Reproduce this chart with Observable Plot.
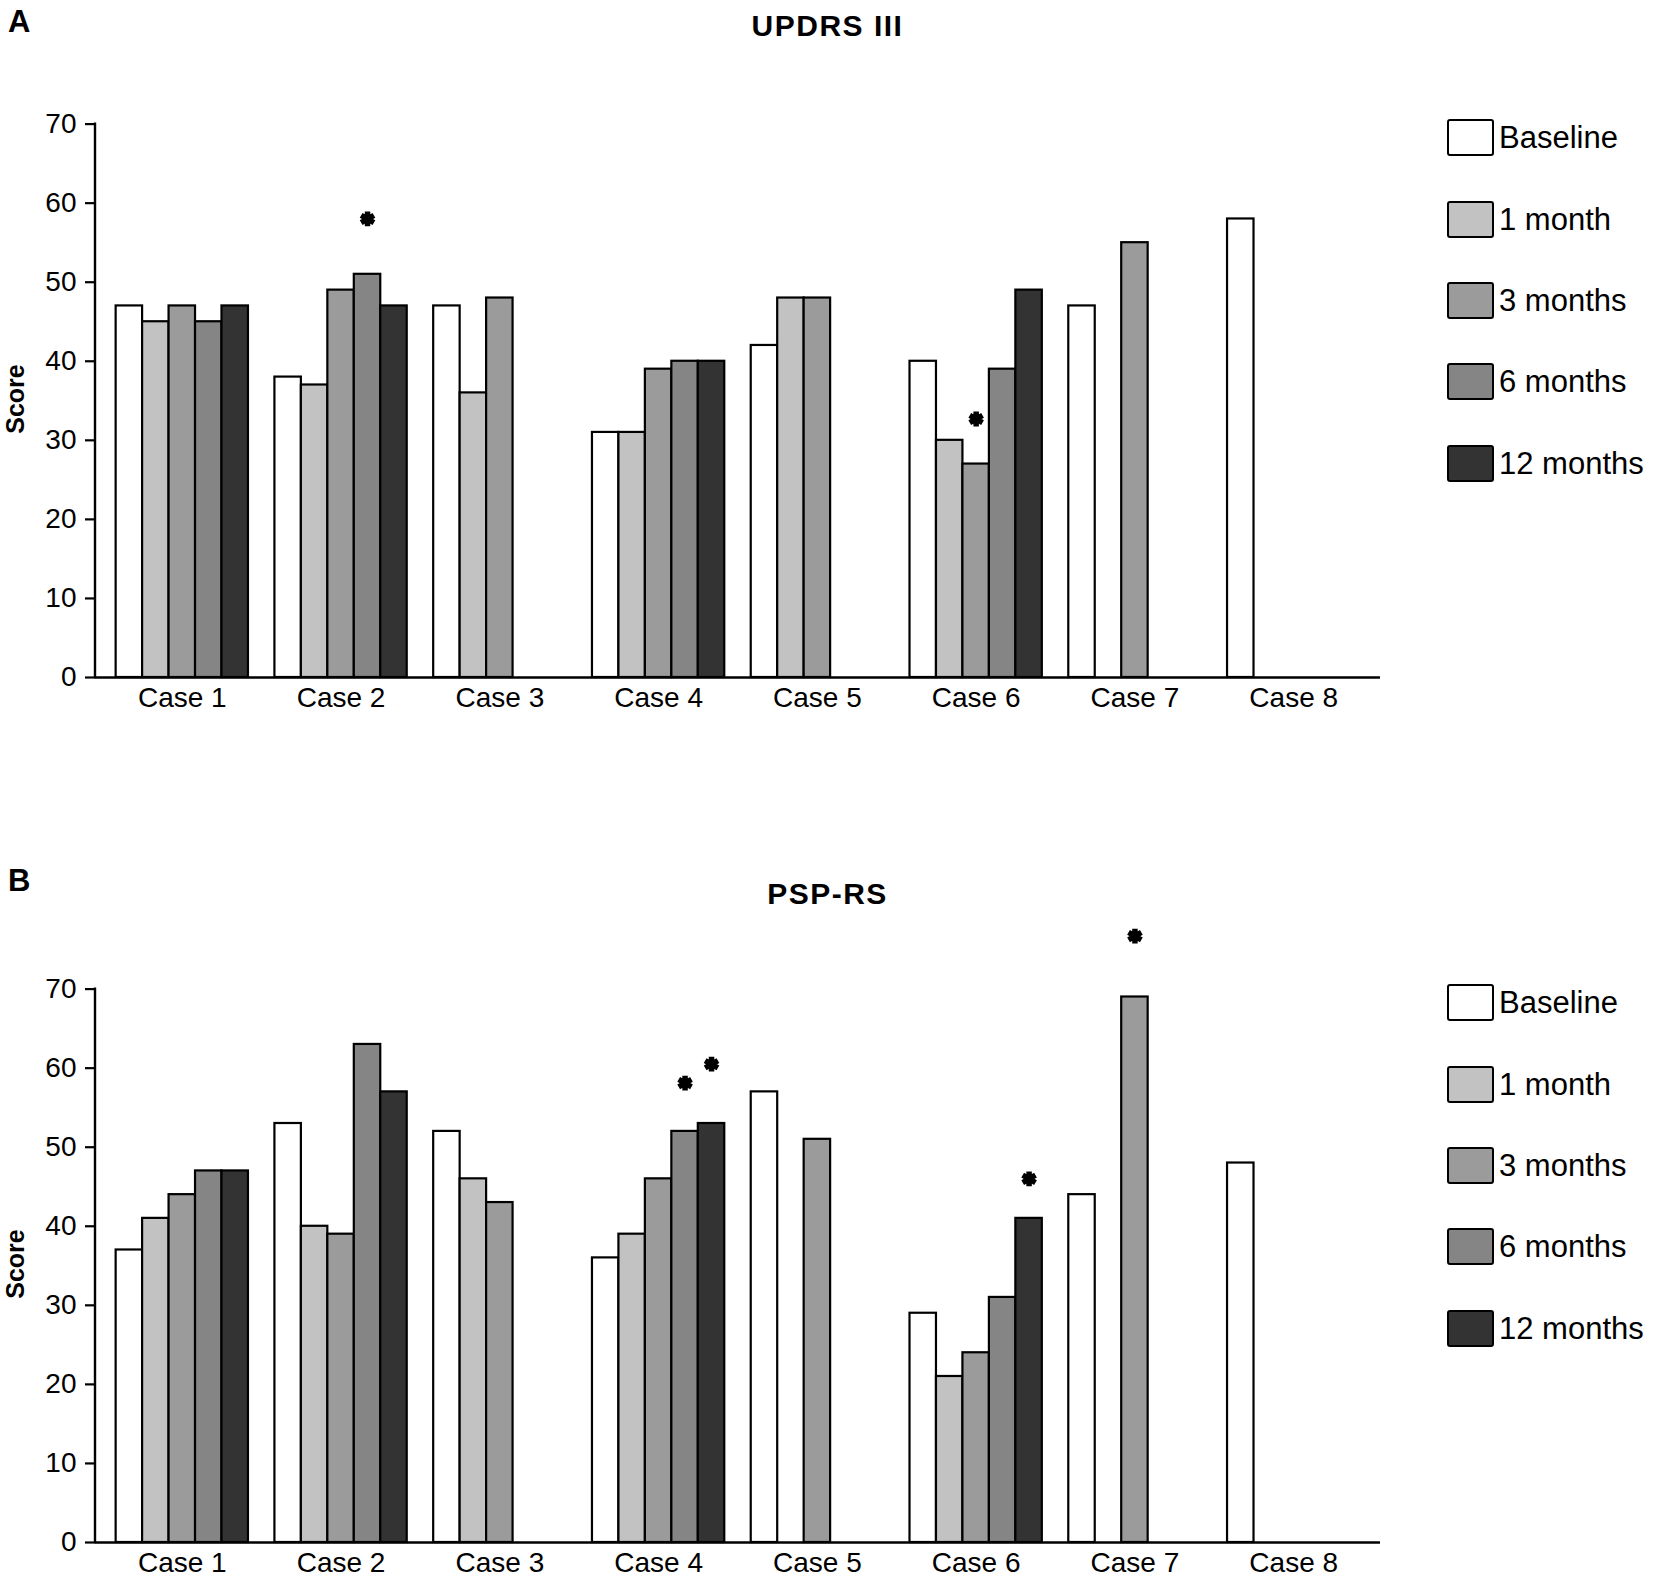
<!DOCTYPE html>
<html>
<head>
<meta charset="utf-8">
<script src="https://cdn.jsdelivr.net/npm/d3@7"></script>
<script src="https://cdn.jsdelivr.net/npm/@observablehq/plot@0.6"></script>
<style>
  body { margin: 0; background: #fff; font-family: "Liberation Sans", Arial, sans-serif; color: #000; }
  #root { position: relative; width: 1655px; height: 1581px; overflow: hidden; background: #fff; }
  .panel { position: absolute; left: 0; width: 1655px; }
  .panel svg { position: absolute; left: 0; top: 0; }
  .plabel { position: absolute; left: 8px; font-weight: bold; font-size: 31px; line-height: 1; }
  .title { position: absolute; left: 0; width: 1655px; text-align: center; font-weight: bold; font-size: 30px; letter-spacing: 1.5px; line-height: 1; }
  .score { position: absolute; left: 15px; font-weight: bold; font-size: 25px; line-height: 1; transform: translate(-50%, -50%) rotate(-90deg); white-space: nowrap; }
  .legend { position: absolute; left: 1447px; top: 0; }
  .item { position: absolute; left: 0; display: flex; align-items: center; white-space: nowrap; font-size: 31px; line-height: 1; }
  .sw { width: 47px; height: 37px; box-sizing: border-box; border: 2.5px solid #000; border-radius: 3px; margin-right: 5px; }
</style>
</head>
<body>
<div id="root"></div>
<script>
// ---- data ----
const cases = ["Case 1", "Case 2", "Case 3", "Case 4", "Case 5", "Case 6", "Case 7", "Case 8"];
const timepoints = ["Baseline", "1 month", "3 months", "6 months", "12 months"];
const colors = ["#ffffff", "#c2c2c2", "#9b9b9b", "#858585", "#333333"];
const yTicks = [0, 10, 20, 30, 40, 50, 60, 70];

// Panel A: UPDRS III
const updrsBaseline = [47, 38, 47, 31, 42, 40, 47, 58];
const updrs1m       = [45, 37, 36, 31, 48, 30, null, null];
const updrs3m       = [47, 49, 48, 39, 48, 27, 55, null];
const updrs6m       = [45, 51, null, 40, null, 39, null, null];
const updrs12m      = [47, 47, null, 40, null, 49, null, null];
const updrsStarCases = ["Case 2", "Case 6"];
const updrsStarTimes = ["6 months", "3 months"];
const updrsStarY     = [58, 32.7];

// Panel B: PSP-RS
const pspBaseline = [37, 53, 52, 36, 57, 29, 44, 48];
const psp1m       = [41, 40, 46, 39, null, 21, null, null];
const psp3m       = [44, 39, 43, 46, 51, 24, 69, null];
const psp6m       = [47, 63, null, 52, null, 31, null, null];
const psp12m      = [47, 57, null, 53, null, 41, null, null];
const pspStarCases = ["Case 4", "Case 4", "Case 6", "Case 7"];
const pspStarTimes = ["6 months", "12 months", "12 months", "3 months"];
const pspStarY     = [58.1, 60.5, 46, 76.7];

// ---- band domain: 5 bars per case, one empty slot between cases ----
const xDomain = [];
cases.forEach((c, i) => {
  timepoints.forEach(t => xDomain.push(c + "|" + t));
  if (i < cases.length - 1) xDomain.push(c + "|gap");
});
const tickKeys = cases.map(c => c + "|" + timepoints[2]);

const root = document.getElementById("root");

function makePanel(cfg) {
  const div = document.createElement("div");
  div.className = "panel";
  div.style.top = cfg.top + "px";
  div.style.height = cfg.height + "px";
  root.appendChild(div);

  const data = [];
  cfg.series.forEach((vals, ti) => {
    vals.forEach((v, ci) => {
      if (v != null) data.push({case: cases[ci], time: timepoints[ti], key: cases[ci] + "|" + timepoints[ti], value: v});
    });
  });
  const stars = cfg.starCases.map((c, i) => ({key: c + "|" + cfg.starTimes[i], y: cfg.starY[i]}));

  const chart = Plot.plot({
    width: 1400,
    height: 720,
    marginLeft: 95,
    marginRight: 20,
    marginTop: 123.6,
    marginBottom: 43,
    style: {fontFamily: '"Liberation Sans", Arial, sans-serif', fontSize: "28px", color: "#000", background: "transparent", overflow: "visible"},
    x: {type: "band", domain: xDomain, paddingInner: 0, paddingOuter: 0.78, round: false},
    y: {domain: [0, 70]},
    color: {type: "ordinal", domain: timepoints, range: colors},
    marks: [
      Plot.barY(data, {x: "key", y: "value", fill: "time", stroke: "#000", strokeWidth: 2.2}),
      Plot.ruleY([0], {stroke: "#000", strokeWidth: 2.4}),
      Plot.axisX({ticks: tickKeys, tickFormat: k => k.split("|")[0], tickSize: 0, tickPadding: 10, fontSize: 28, label: null}),
      Plot.axisY({ticks: yTicks, tickSize: 10, tickPadding: 9, strokeWidth: 2.2, fontSize: 28, label: null}),
      Plot.dot(stars, {x: "key", y: "y", symbol: "asterisk", r: 7, stroke: "#000", strokeWidth: 5.5})
    ]
  });
  // vertical axis line along the left edge of the frame, from the library's scales
  const xs = chart.scale("x"), ys = chart.scale("y");
  d3.select(chart).append("line")
    .attr("x1", xs.range[0]).attr("x2", xs.range[0])
    .attr("y1", ys.apply(0) + 1.2).attr("y2", ys.apply(70) - 1)
    .attr("stroke", "#000").attr("stroke-width", 2.4);
  div.appendChild(chart);

  const lab = document.createElement("div");
  lab.className = "plabel";
  lab.textContent = cfg.label;
  lab.style.top = cfg.labelTop + "px";
  div.appendChild(lab);

  const title = document.createElement("div");
  title.className = "title";
  title.textContent = cfg.title;
  title.style.top = cfg.titleTop + "px";
  div.appendChild(title);

  const score = document.createElement("div");
  score.className = "score";
  score.textContent = "Score";
  score.style.top = "399px";
  div.appendChild(score);

  const legend = document.createElement("div");
  legend.className = "legend";
  timepoints.forEach((t, i) => {
    const item = document.createElement("div");
    item.className = "item";
    item.style.top = (119.4 + i * 81.3) + "px";
    const sw = document.createElement("div");
    sw.className = "sw";
    sw.style.background = colors[i];
    const tx = document.createElement("span");
    tx.textContent = t;
    item.appendChild(sw);
    item.appendChild(tx);
    legend.appendChild(item);
  });
  div.appendChild(legend);
}

makePanel({
  top: 0, height: 865, label: "A", labelTop: 6, title: "UPDRS III", titleTop: 11,
  series: [updrsBaseline, updrs1m, updrs3m, updrs6m, updrs12m],
  starCases: updrsStarCases, starTimes: updrsStarTimes, starY: updrsStarY
});
makePanel({
  top: 865, height: 716, label: "B", labelTop: 0, title: "PSP-RS", titleTop: 14,
  series: [pspBaseline, psp1m, psp3m, psp6m, psp12m],
  starCases: pspStarCases, starTimes: pspStarTimes, starY: pspStarY
});
</script>
</body>
</html>
